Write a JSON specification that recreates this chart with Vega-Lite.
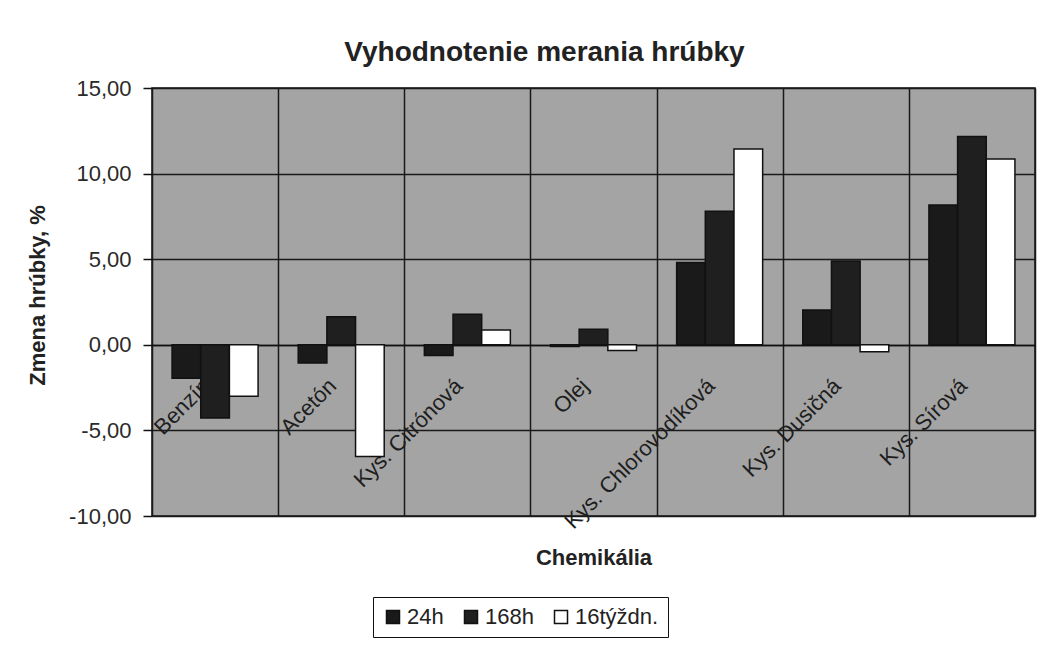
{
  "$schema": "https://vega.github.io/schema/vega-lite/v6.json",
  "width": 883,
  "height": 428,
  "autosize": "none",
  "padding": {"left": 152, "top": 88, "right": 29, "bottom": 131},
  "background": "white",
  "title": {
    "text": "Vyhodnotenie merania hrúbky",
    "font": "Liberation Sans",
    "fontSize": 28,
    "fontWeight": "bold",
    "color": "#222222",
    "anchor": "middle",
    "dx": -49,
    "dy": 28,
    "baseline": "alphabetic",
    "offset": 16,
    "frame": "group"
  },
  "data": {
    "values": [
      {"chemikalia": "Benzín", "cas": "24h", "zmena": -1.95},
      {"chemikalia": "Benzín", "cas": "168h", "zmena": -4.27},
      {"chemikalia": "Benzín", "cas": "16týždn.", "zmena": -3.0},
      {"chemikalia": "Acetón", "cas": "24h", "zmena": -1.07},
      {"chemikalia": "Acetón", "cas": "168h", "zmena": 1.64},
      {"chemikalia": "Acetón", "cas": "16týždn.", "zmena": -6.53},
      {"chemikalia": "Kys. Citrónová", "cas": "24h", "zmena": -0.63},
      {"chemikalia": "Kys. Citrónová", "cas": "168h", "zmena": 1.78},
      {"chemikalia": "Kys. Citrónová", "cas": "16týždn.", "zmena": 0.87},
      {"chemikalia": "Olej", "cas": "24h", "zmena": -0.1},
      {"chemikalia": "Olej", "cas": "168h", "zmena": 0.91},
      {"chemikalia": "Olej", "cas": "16týždn.", "zmena": -0.34},
      {"chemikalia": "Kys. Chlorovodíková", "cas": "24h", "zmena": 4.8},
      {"chemikalia": "Kys. Chlorovodíková", "cas": "168h", "zmena": 7.8},
      {"chemikalia": "Kys. Chlorovodíková", "cas": "16týždn.", "zmena": 11.44},
      {"chemikalia": "Kys. Dusičná", "cas": "24h", "zmena": 2.03},
      {"chemikalia": "Kys. Dusičná", "cas": "168h", "zmena": 4.9},
      {"chemikalia": "Kys. Dusičná", "cas": "16týždn.", "zmena": -0.4},
      {"chemikalia": "Kys. Sírová", "cas": "24h", "zmena": 8.17},
      {"chemikalia": "Kys. Sírová", "cas": "168h", "zmena": 12.17},
      {"chemikalia": "Kys. Sírová", "cas": "16týždn.", "zmena": 10.85}
    ]
  },
  "mark": {"type": "bar", "stroke": "#111111", "strokeWidth": 1.5},
  "encoding": {
    "x": {
      "field": "chemikalia",
      "type": "nominal",
      "sort": ["Benzín", "Acetón", "Kys. Citrónová", "Olej", "Kys. Chlorovodíková", "Kys. Dusičná", "Kys. Sírová"],
      "scale": {"paddingInner": 0, "paddingOuter": 0},
      "axis": {
        "title": "Chemikália",
        "titleFont": "Liberation Sans",
        "titleFontSize": 22,
        "titleFontWeight": "bold",
        "titleColor": "#222222",
        "titleY": 219,
        "titleBaseline": "alphabetic",
        "labelAngle": -45,
        "labelAlign": "right",
        "labelBaseline": "middle",
        "labelFont": "Liberation Sans",
        "labelFontSize": 22,
        "labelColor": "#1e1e1e",
        "labelPadding": 37,
        "labelOffset": -9,
        "labelLimit": 400,
        "labelOverlap": false,
        "labelBound": false,
        "ticks": false,
        "domain": true,
        "domainColor": "#111111",
        "domainWidth": 1.5,
        "grid": true,
        "tickBand": "extent",
        "gridColor": "#1a1a1a",
        "gridWidth": 1.5,
        "gridOpacity": 1,
        "offset": -171
      }
    },
    "xOffset": {
      "field": "cas",
      "type": "nominal",
      "sort": ["24h", "168h", "16týždn."],
      "scale": {"paddingInner": 0, "paddingOuter": 0.7}
    },
    "y": {
      "field": "zmena",
      "type": "quantitative",
      "scale": {"domain": [-10, 15], "nice": false, "zero": false},
      "axis": {
        "values": [-10, -5, 0, 5, 10, 15],
        "labelExpr": "replace(replace(format(datum.value, '.2f'), '.', ','), '\u2212', '-')",
        "labelFont": "Liberation Sans",
        "labelFontSize": 22,
        "labelColor": "#2a2a2a",
        "labelPadding": 12,
        "tickSize": 9,
        "tickColor": "#111111",
        "tickWidth": 1.5,
        "domain": false,
        "grid": true,
        "gridColor": "#1a1a1a",
        "gridWidth": 1.5,
        "gridOpacity": 1,
        "title": "Zmena hrúbky, %",
        "titleFont": "Liberation Sans",
        "titleFontSize": 22,
        "titleFontWeight": "bold",
        "titleColor": "#222222",
        "titleX": -115,
        "titleY": 207,
        "titleAlign": "center",
        "titleBaseline": "middle",
        "titleAngle": -90
      }
    },
    "color": {
      "field": "cas",
      "type": "nominal",
      "sort": ["24h", "168h", "16týždn."],
      "scale": {"domain": ["24h", "168h", "16týždn."], "range": ["#1a1a1a", "#1f1f1f", "#ffffff"]},
      "legend": {
        "title": null,
        "orient": "none",
        "legendX": 221,
        "legendY": 509,
        "direction": "horizontal",
        "strokeColor": "#111111",
        "fillColor": "#ffffff",
        "padding": 9,
        "symbolType": "square",
        "symbolSize": 169,
        "symbolStrokeColor": "#111111",
        "symbolStrokeWidth": 1.5,
        "symbolOpacity": 1,
        "labelFont": "Liberation Sans",
        "labelFontSize": 22,
        "labelColor": "#222222",
        "labelOffset": 3,
        "columnPadding": 16
      }
    }
  },
  "config": {
    "view": {"fill": "#a4a4a4", "stroke": "#111111", "strokeWidth": 1.5}
  }
}
